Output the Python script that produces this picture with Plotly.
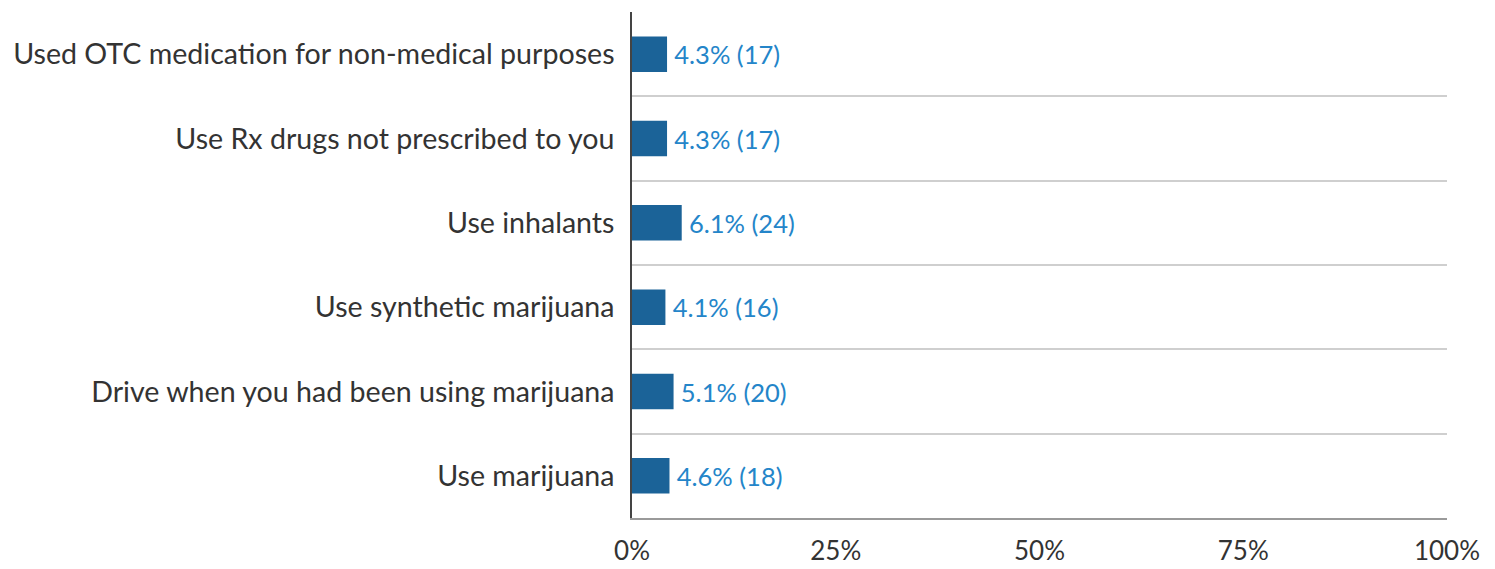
import plotly.graph_objects as go

categories = [
    "Use marijuana",
    "Drive when you had been using marijuana",
    "Use synthetic marijuana",
    "Use inhalants",
    "Use Rx drugs not prescribed to you",
    "Used OTC medication for non-medical purposes",
]
percents = [4.6, 5.1, 4.1, 6.1, 4.3, 4.3]
counts = [18, 20, 16, 24, 17, 17]
x_ticks = [0, 25, 50, 75, 100]
x_tick_labels = ["0%", "25%", "50%", "75%", "100%"]

positions = list(range(len(categories)))
labels = [f"\u2006{p:.1f}% ({c})" for p, c in zip(percents, counts)]

fig = go.Figure(go.Bar(
    x=percents,
    y=positions,
    orientation="h",
    width=0.42,
    marker=dict(color="#1b6398", line=dict(width=0)),
    text=labels,
    textposition="outside",
    textfont=dict(color="#2485c9", size=25.5, family="Lato"),
    cliponaxis=False,
))

fig.update_layout(
    width=1487,
    height=561,
    margin=dict(l=624, r=48, t=4, b=51),
    paper_bgcolor="white",
    plot_bgcolor="white",
    showlegend=False,
    font=dict(family="Lato", color="#333333"),
)

fig.update_xaxes(
    range=[0, 100],
    tickvals=x_ticks,
    ticktext=x_tick_labels,
    automargin=False,
    showgrid=False,
    zeroline=False,
    showline=True,
    linecolor="#9a9a9a",
    linewidth=2,
    ticks="",
    ticklabelstandoff=9,
    tickfont=dict(size=26, color="#333333", family="Lato"),
)

fig.update_yaxes(
    range=[-0.5, 5.5],
    tickvals=positions,
    ticktext=categories,
    automargin=False,
    showgrid=False,
    zeroline=False,
    showline=True,
    linecolor="#444444",
    linewidth=1.5,
    ticks="",
    ticklabelstandoff=10,
    tickfont=dict(size=28.6, color="#333333", family="Lato"),
    minor=dict(
        tickvals=[p + 0.5 for p in positions[:-1]],
        showgrid=True,
        gridcolor="#cfcfcf",
        gridwidth=2,
        ticks="",
    ),
)

fig.write_html("out.html")
